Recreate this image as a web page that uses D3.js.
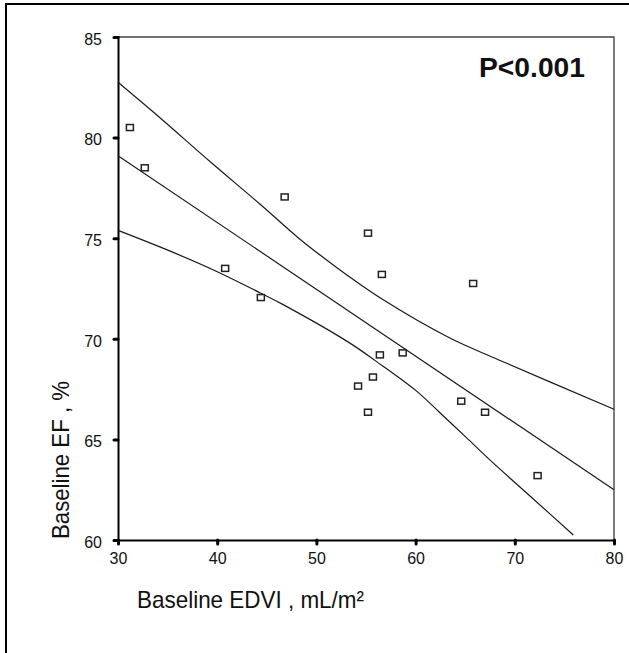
<!DOCTYPE html>
<html>
<head>
<meta charset="utf-8">
<script src="https://cdn.jsdelivr.net/npm/d3@7"></script>
<style>
  html, body { margin: 0; padding: 0; background: #fff; }
  svg { display: block; }
  text { font-family: "Liberation Sans", Arial, sans-serif; fill: #111; }
</style>
</head>
<body>
<div id="chart"></div>
<script>
// ---- Data ----
const pointsX = [31.2, 32.7, 40.8, 44.4, 46.8, 55.2, 56.6, 65.8, 56.4, 58.7, 55.7, 54.2, 55.2, 64.6, 67.0, 72.3];
const pointsY = [80.5, 78.5, 73.5, 72.05, 77.05, 75.25, 73.2, 72.75, 69.2, 69.3, 68.1, 67.65, 66.35, 66.9, 66.35, 63.2];

const fitX = [30, 80];
const fitY = [79.1, 62.5];

const upperX = [30.0, 34.2, 39.3, 44.3, 48.1, 50.4, 53.0, 56.7, 63.4, 68.4, 80.0];
const upperY = [82.75, 81.0, 78.8, 76.7, 75.05, 74.15, 73.2, 71.95, 70.05, 68.95, 66.5];

const lowerX = [30.0, 34.9, 39.9, 44.3, 46.6, 53.3, 56.0, 60.1, 62.4, 65.1, 67.4, 71.5, 75.9];
const lowerY = [75.39, 74.43, 73.36, 72.29, 71.71, 69.81, 68.89, 67.4, 66.35, 65.1, 64.02, 62.2, 60.25];

const xTicks = [30, 40, 50, 60, 70, 80];
const yTicks = [60, 65, 70, 75, 80, 85];

const xLabel = "Baseline EDVI , mL/m\u00B2";
const yLabel = "Baseline EF , %";
const pLabel = "P<0.001";

// ---- Layout ----
const W = 629, H = 653;
const mLeft = 118, mRight = 614, mTop = 37, mBottom = 540;

const svg = d3.select("#chart").append("svg")
  .attr("width", W).attr("height", H);

// outer frame (right/bottom edges lie outside the picture)
svg.append("rect")
  .attr("x", 6).attr("y", 4).attr("width", 700).attr("height", 700)
  .attr("fill", "none").attr("stroke", "#000").attr("stroke-width", 2);

const x = d3.scaleLinear().domain([30, 80]).range([mLeft, mRight]);
const y = d3.scaleLinear().domain([60, 85]).range([mBottom, mTop]);

// top & right plot borders (thin gray)
svg.append("path")
  .attr("d", `M${mLeft},${mTop}H${mRight}V${mBottom}`)
  .attr("fill", "none").attr("stroke", "#444").attr("stroke-width", 1.4);

// axes
const xAxis = d3.axisBottom(x).tickValues(xTicks).tickSize(4).tickPadding(8).tickFormat(d3.format("d"));
const yAxis = d3.axisLeft(y).tickValues(yTicks).tickSize(4).tickPadding(12).tickFormat(d3.format("d"));

const gx = svg.append("g").attr("transform", `translate(0,${mBottom})`).call(xAxis);
const gy = svg.append("g").attr("transform", `translate(${mLeft},0)`).call(yAxis);

[gx, gy].forEach(g => {
  g.select(".domain").attr("stroke", "#000").attr("stroke-width", 2);
  g.selectAll(".tick line").attr("stroke", "#000").attr("stroke-width", 3).attr("stroke-linecap", "round");
  g.selectAll(".tick text").attr("font-size", 16).attr("fill", "#222")
    .style("font-family", "'Liberation Sans', Arial, sans-serif");
});
gy.selectAll(".tick text").attr("dy", "0.45em");
gx.selectAll(".tick text").attr("dy", "0.75em");

// lines
const line = d3.line().x(d => x(d[0])).y(d => y(d[1])).curve(d3.curveCatmullRom.alpha(0.5));
const bands = [
  d3.zip(upperX, upperY),
  d3.zip(fitX, fitY),
  d3.zip(lowerX, lowerY)
];
svg.append("g").selectAll("path").data(bands).join("path")
  .attr("d", line)
  .attr("fill", "none").attr("stroke", "#1a1a1a").attr("stroke-width", 1.2);

// points (open squares)
const pts = d3.zip(pointsX, pointsY);
svg.append("g").selectAll("rect").data(pts).join("rect")
  .attr("x", d => x(d[0]) - 3.5)
  .attr("y", d => y(d[1]) - 3)
  .attr("width", 7).attr("height", 6)
  .attr("fill", "#fff").attr("stroke", "#222").attr("stroke-width", 1.5);

// P value
svg.append("text")
  .attr("x", 479).attr("y", 77)
  .attr("font-size", 27).attr("font-weight", "bold")
  .attr("textLength", 106).attr("lengthAdjust", "spacingAndGlyphs")
  .text(pLabel);

// x axis label
svg.append("text")
  .attr("x", 137).attr("y", 608)
  .attr("font-size", 24)
  .attr("textLength", 227).attr("lengthAdjust", "spacingAndGlyphs")
  .text(xLabel);

// y axis label
svg.append("text")
  .attr("transform", `translate(69,539) rotate(-90)`)
  .attr("font-size", 24)
  .attr("textLength", 158).attr("lengthAdjust", "spacingAndGlyphs")
  .text(yLabel);
</script>
</body>
</html>
